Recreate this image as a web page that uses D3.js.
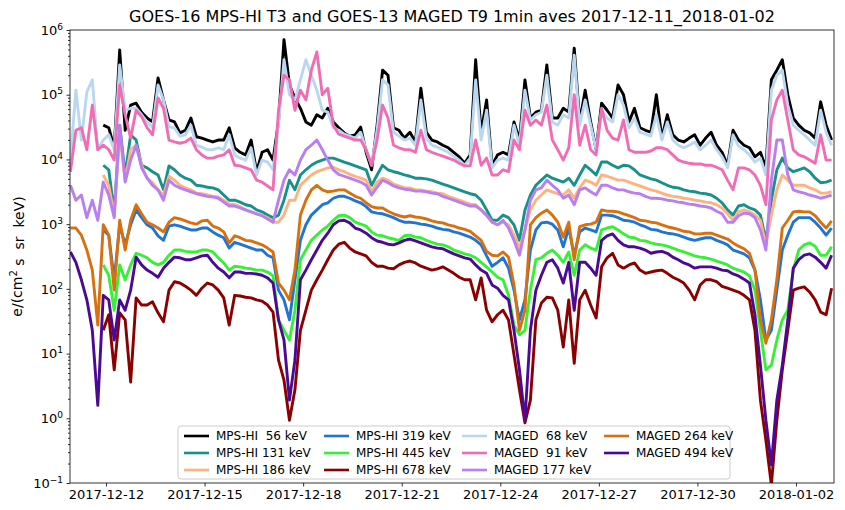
<!DOCTYPE html>
<html>
<head>
<meta charset="utf-8">
<script src="https://cdn.jsdelivr.net/npm/d3@7"></script>
<style>
  body { margin: 0; background: #fff; }
  text { font-family: "DejaVu Sans", sans-serif; fill: #000; }
</style>
</head>
<body>
<svg id="chart" width="845" height="510"></svg>
<script>
// one sample every 4 hours from 2017-12-10 22:00 UT
const sampleStart = '2017-12-10T22:00:00Z';
const sampleStepHours = 4;

// log10 of the flux, e/(cm2 s sr keV); null = no MPS-HI data yet
const mpsHi56 = [
  null,null,null,null,null,null,4.53,4.49,4.18,5.69,
  4.45,4.84,4.87,4.73,4.64,4.58,5.26,4.92,4.61,4.58,
  4.41,4.45,4.64,4.35,4.33,4.30,4.27,4.30,4.30,4.49,
  4.18,4.11,4.07,4.30,3.81,4.11,4.15,3.99,4.58,5.85,
  5.15,4.95,4.79,4.58,4.53,4.69,4.64,4.79,4.58,4.49,
  4.41,4.36,4.38,4.50,4.11,3.84,4.53,5.38,5.30,4.49,
  4.45,4.33,4.42,4.27,5.10,4.42,4.30,4.27,4.22,4.18,
  4.11,4.04,3.94,4.07,5.54,4.42,4.92,3.91,4.07,4.11,
  4.07,4.58,4.30,5.23,4.64,4.73,4.76,5.46,4.64,4.64,
  4.79,4.73,5.72,4.58,5.07,4.58,4.15,4.87,4.76,4.64,
  5.15,5.00,4.58,4.79,4.49,4.45,4.42,5.00,4.33,4.69,
  4.38,4.30,4.27,4.33,4.38,4.22,4.33,4.42,4.22,4.11,
  3.91,4.45,4.30,4.22,4.18,4.04,4.11,3.87,5.23,5.38,
  5.54,5.00,4.64,4.53,4.45,4.41,4.33,4.89,4.53,4.30
];
const mpsHi131 = [
  null,null,null,null,null,null,3.91,3.84,3.19,4.53,
  3.76,4.38,4.30,3.91,3.87,3.81,3.76,3.53,3.90,3.84,
  3.76,3.71,3.68,3.60,3.59,3.57,3.56,3.53,3.45,3.37,
  3.37,3.34,3.30,3.28,3.22,3.19,3.14,3.10,3.14,3.37,
  3.68,3.53,3.76,3.84,3.91,3.96,3.99,4.02,4.02,3.99,
  3.96,3.93,3.90,3.87,3.84,3.60,3.76,3.91,3.84,3.81,
  3.79,3.76,3.74,3.71,3.71,3.70,3.68,3.65,3.62,3.59,
  3.56,3.53,3.50,3.47,3.45,3.37,3.22,3.06,3.06,3.14,
  3.10,2.99,2.75,3.22,3.45,3.60,3.68,3.76,3.71,3.68,
  3.65,3.71,3.60,3.76,3.91,3.84,3.76,3.96,3.96,3.91,
  3.87,3.91,3.90,3.84,3.76,3.73,3.70,3.68,3.64,3.60,
  3.57,3.56,3.53,3.51,3.50,3.48,3.47,3.45,3.40,3.33,
  3.22,3.14,3.28,3.30,3.25,3.22,3.14,2.75,3.37,3.84,
  4.02,3.87,3.81,3.84,3.87,3.81,3.71,3.64,3.65,3.68
];
const mpsHi186 = [
  null,null,null,null,null,null,3.76,3.60,3.14,4.38,
  3.68,4.15,4.22,3.91,3.71,3.64,3.53,3.45,3.74,3.68,
  3.60,3.56,3.53,3.48,3.47,3.45,3.43,3.42,3.37,3.31,
  3.30,3.27,3.22,3.19,3.16,3.13,3.10,3.03,3.03,3.14,
  3.37,3.37,3.60,3.68,3.76,3.81,3.84,3.87,3.88,3.84,
  3.81,3.77,3.74,3.71,3.68,3.50,3.65,3.71,3.68,3.62,
  3.59,3.56,3.56,3.53,3.53,3.51,3.50,3.48,3.47,3.43,
  3.40,3.37,3.34,3.31,3.30,3.22,3.13,3.03,2.99,3.03,
  2.99,2.83,2.63,2.91,3.22,3.37,3.45,3.53,3.50,3.47,
  3.45,3.53,3.40,3.56,3.68,3.65,3.60,3.76,3.74,3.71,
  3.68,3.68,3.65,3.62,3.59,3.56,3.53,3.51,3.48,3.45,
  3.43,3.42,3.40,3.39,3.37,3.36,3.34,3.33,3.30,3.25,
  3.16,3.06,3.19,3.22,3.19,3.14,3.06,2.68,3.14,3.53,
  3.76,3.68,3.60,3.60,3.60,3.56,3.53,3.48,3.48,3.50
];
const mpsHi319 = [
  null,null,null,null,null,null,2.91,2.83,2.14,2.99,
  2.68,2.99,3.22,3.10,2.99,2.94,2.82,2.75,2.97,2.99,
  2.97,2.94,2.91,2.91,2.94,2.94,2.88,2.83,2.79,2.63,
  2.72,2.69,2.66,2.63,2.60,2.60,2.52,2.48,1.98,1.83,
  1.52,2.14,2.75,2.99,3.14,3.22,3.30,3.33,3.40,3.43,
  3.43,3.40,3.36,3.33,3.27,3.19,3.17,3.16,3.13,3.10,
  3.06,3.03,3.03,3.02,3.00,2.99,2.97,2.94,2.92,2.91,
  2.88,2.86,2.83,2.80,2.75,2.68,2.51,2.35,2.41,2.48,
  2.32,1.98,1.52,1.83,2.60,2.91,3.02,3.03,3.00,2.91,
  2.65,2.94,2.52,2.88,2.94,2.91,2.88,3.14,3.14,3.13,
  3.10,3.06,3.05,3.03,2.99,2.96,2.92,2.91,2.88,2.86,
  2.85,2.83,2.80,2.77,2.75,2.77,2.79,2.79,2.75,2.72,
  2.68,2.60,2.57,2.54,2.48,2.29,1.83,1.21,1.36,1.98,
  2.60,2.83,3.03,3.10,3.10,3.10,3.03,2.94,2.83,2.94
];
const mpsHi445 = [
  null,null,null,null,null,null,2.37,2.21,1.67,2.37,
  2.14,2.37,2.55,2.52,2.48,2.41,2.37,2.41,2.52,2.60,
  2.60,2.58,2.57,2.57,2.60,2.60,2.57,2.48,2.40,2.29,
  2.35,2.34,2.32,2.31,2.29,2.29,2.26,2.20,1.52,1.36,
  1.21,1.67,2.45,2.60,2.75,2.83,2.91,2.97,3.06,3.13,
  3.14,3.10,3.03,3.00,2.97,2.88,2.83,2.82,2.79,2.77,
  2.75,2.82,2.83,2.80,2.79,2.75,2.72,2.69,2.68,2.65,
  2.60,2.57,2.54,2.52,2.48,2.41,2.34,2.26,2.18,2.14,
  1.90,1.44,1.29,1.36,1.98,2.45,2.48,2.55,2.60,2.52,
  2.41,2.57,2.21,2.60,2.68,2.63,2.60,2.91,2.94,2.96,
  2.91,2.85,2.80,2.79,2.75,2.74,2.71,2.69,2.68,2.66,
  2.63,2.60,2.57,2.54,2.51,2.49,2.48,2.46,2.43,2.40,
  2.37,2.32,2.29,2.26,2.20,1.98,1.36,0.75,0.82,1.21,
  1.52,1.67,2.29,2.60,2.68,2.71,2.66,2.52,2.52,2.65
];
const mpsHi678 = [
  null,null,null,null,null,null,1.36,1.60,0.75,1.63,
  1.52,0.56,1.86,1.75,1.75,1.80,1.63,1.49,1.98,2.11,
  2.09,2.04,1.98,1.90,2.01,2.09,2.06,1.98,1.86,1.44,
  1.90,1.89,1.87,1.86,1.83,1.81,1.75,1.64,0.90,0.59,
  -0.03,0.44,1.36,1.67,1.98,2.14,2.29,2.45,2.60,2.69,
  2.72,2.63,2.57,2.54,2.51,2.41,2.35,2.35,2.32,2.31,
  2.37,2.41,2.43,2.40,2.35,2.32,2.29,2.31,2.34,2.29,
  2.24,2.18,2.14,2.14,1.83,2.17,1.67,1.49,1.60,1.67,
  1.52,0.98,0.44,-0.07,0.28,1.52,1.78,1.87,1.86,1.67,
  1.10,1.83,0.85,1.83,1.98,1.75,1.55,2.34,2.48,2.55,
  2.37,2.32,2.37,2.40,2.29,2.24,2.26,2.28,2.29,2.24,
  2.18,2.14,2.09,1.98,1.83,2.06,2.14,2.14,2.11,2.04,
  2.01,1.98,1.95,1.90,1.83,1.36,0.28,-0.34,-1.03,-0.03,
  0.75,1.36,1.98,2.01,2.03,1.95,1.83,1.64,1.60,2.01
];
const maged68 = [
  3.99,5.07,4.30,5.04,5.23,4.15,4.30,4.38,4.15,5.46,
  4.76,4.79,4.79,4.69,4.58,4.49,5.15,4.92,4.50,4.49,
  4.36,4.38,4.53,4.22,4.19,4.15,4.15,4.18,4.15,4.38,
  4.07,4.02,3.99,4.18,3.76,3.99,3.96,3.84,4.53,5.54,
  5.00,4.92,5.23,5.54,5.30,5.07,4.76,4.73,4.49,4.45,
  4.39,4.36,4.33,4.42,4.15,3.91,4.45,5.23,5.15,4.42,
  4.36,4.30,4.33,4.22,4.92,4.33,4.22,4.19,4.15,4.11,
  4.05,3.99,3.91,4.02,5.23,4.30,4.76,3.87,3.99,4.02,
  3.99,4.53,4.22,5.07,4.61,4.69,4.73,5.30,4.58,4.53,
  4.69,4.64,5.61,4.53,4.92,4.53,4.15,4.76,4.64,4.58,
  5.00,4.84,4.49,4.64,4.42,4.39,4.36,4.69,4.30,4.58,
  4.30,4.22,4.18,4.22,4.27,4.15,4.22,4.30,4.15,4.04,
  3.87,4.38,4.21,4.15,4.07,3.96,4.02,3.76,5.07,5.30,
  5.38,4.84,4.53,4.45,4.38,4.30,4.22,4.76,4.42,4.22
];
const maged91 = [
  3.81,4.45,4.49,4.15,4.84,4.15,4.22,4.15,3.99,5.15,
  4.69,4.33,4.76,4.66,4.49,4.38,4.95,4.79,4.30,4.27,
  4.25,4.27,4.33,4.15,4.07,4.02,4.02,4.05,4.07,4.15,
  3.91,3.90,3.87,3.84,3.68,3.65,3.59,3.53,4.76,5.30,
  5.23,4.76,5.07,4.92,5.38,5.66,5.00,5.10,4.53,4.39,
  4.36,4.33,4.30,4.30,4.15,3.91,4.30,4.84,4.64,4.22,
  4.18,4.15,4.15,4.11,4.45,4.15,4.11,4.08,4.05,4.02,
  3.99,3.94,3.90,3.90,4.30,3.91,4.02,3.76,3.76,3.84,
  3.81,4.30,4.15,4.76,4.53,4.61,4.53,4.84,4.30,4.15,
  3.99,4.18,5.00,4.22,4.53,4.15,4.07,4.79,4.45,4.33,
  4.30,4.61,4.15,4.11,4.11,4.11,4.13,4.18,4.18,4.15,
  4.07,3.99,3.96,3.94,3.93,3.93,3.91,3.91,3.88,3.84,
  3.68,3.53,3.87,3.87,3.84,3.76,3.60,3.30,4.61,4.92,
  5.07,4.61,4.15,4.07,4.04,3.99,3.94,4.38,3.99,3.99
];
const maged177 = [
  3.60,3.37,3.45,3.10,3.37,3.06,3.65,3.45,3.10,4.53,
  3.65,3.99,4.22,3.87,3.71,3.60,3.53,3.37,3.68,3.60,
  3.56,3.53,3.50,3.47,3.45,3.43,3.42,3.40,3.34,3.28,
  3.28,3.25,3.22,3.19,3.16,3.13,3.08,3.03,3.37,3.68,
  3.84,3.76,3.99,4.15,4.22,4.30,4.15,3.99,3.84,3.77,
  3.74,3.71,3.68,3.65,3.60,3.45,3.57,3.68,3.64,3.59,
  3.56,3.54,3.53,3.51,3.51,3.50,3.48,3.47,3.43,3.40,
  3.37,3.34,3.31,3.28,3.28,3.22,3.14,3.03,2.99,3.06,
  2.94,2.75,2.52,2.91,3.37,3.53,3.56,3.68,3.60,3.53,
  3.40,3.45,3.30,3.53,3.56,3.50,3.45,3.60,3.60,3.56,
  3.53,3.53,3.50,3.48,3.47,3.43,3.40,3.40,3.39,3.37,
  3.36,3.34,3.33,3.31,3.30,3.28,3.27,3.25,3.20,3.16,
  3.03,3.03,3.13,3.17,3.16,3.10,2.91,2.60,3.68,4.30,
  4.30,3.76,3.53,3.50,3.48,3.45,3.43,3.40,3.42,3.45
];
const maged264 = [
  2.94,2.94,2.83,2.60,2.29,1.44,2.99,2.83,1.98,3.06,
  2.60,3.06,3.30,3.16,3.03,2.99,2.94,2.88,3.03,3.10,
  3.08,3.05,3.02,3.00,3.05,3.06,2.97,2.94,2.88,2.71,
  2.82,2.79,2.75,2.74,2.71,2.68,2.63,2.57,2.09,1.98,
  1.83,2.29,3.14,3.37,3.53,3.60,3.53,3.50,3.51,3.53,
  3.53,3.48,3.43,3.40,3.33,3.27,3.25,3.25,3.20,3.16,
  3.13,3.11,3.13,3.11,3.10,3.08,3.05,3.03,3.02,2.99,
  2.97,2.94,2.92,2.89,2.82,2.75,2.58,2.52,2.51,2.57,
  2.49,2.06,1.36,1.67,2.99,3.10,3.17,3.22,3.14,3.03,
  2.80,3.03,2.45,2.96,2.99,3.00,3.03,3.22,3.20,3.20,
  3.19,3.16,3.13,3.10,3.06,3.05,3.03,3.02,2.99,2.96,
  2.94,2.92,2.89,2.88,2.85,2.85,2.86,2.86,2.83,2.80,
  2.77,2.71,2.66,2.62,2.55,2.29,1.52,1.16,1.52,2.14,
  2.94,3.06,3.19,3.20,3.19,3.19,3.13,3.03,2.94,3.05
];
const maged494 = [
  2.57,2.41,2.14,1.83,1.36,0.20,1.90,1.83,1.21,1.83,
  1.67,1.98,2.49,2.37,2.29,2.24,2.18,2.32,2.41,2.49,
  2.48,2.45,2.45,2.48,2.51,2.52,2.41,2.32,2.26,2.17,
  2.26,2.26,2.24,2.24,2.23,2.21,2.17,2.09,1.52,1.21,
  0.28,0.90,2.14,2.29,2.45,2.60,2.75,2.86,2.99,3.05,
  3.06,3.02,2.94,2.91,2.86,2.79,2.74,2.72,2.69,2.68,
  2.71,2.75,2.77,2.74,2.71,2.68,2.65,2.63,2.62,2.58,
  2.54,2.51,2.48,2.46,2.37,2.29,2.24,2.06,2.01,1.90,
  1.83,1.36,0.75,-0.03,1.36,1.98,2.21,2.41,2.45,2.32,
  2.09,2.41,1.67,2.41,2.41,2.32,2.21,2.75,2.82,2.85,
  2.75,2.68,2.65,2.65,2.63,2.60,2.55,2.57,2.58,2.55,
  2.49,2.45,2.40,2.37,2.32,2.34,2.34,2.34,2.32,2.29,
  2.28,2.23,2.20,2.15,2.09,1.60,0.82,-0.03,-0.72,0.28,
  0.82,1.52,2.32,2.45,2.52,2.54,2.49,2.41,2.32,2.52
];

const seriesLabels = [
  'MPS-HI  56 keV', 'MPS-HI 131 keV', 'MPS-HI 186 keV',
  'MPS-HI 319 keV', 'MPS-HI 445 keV', 'MPS-HI 678 keV',
  'MAGED  68 keV', 'MAGED  91 keV', 'MAGED 177 keV',
  'MAGED 264 keV', 'MAGED 494 keV'
];
const seriesColors = [
  '#000000', '#17918a', '#ffb27e',
  '#1f74d6', '#35f035', '#8b0000',
  '#bad7f2', '#f06db5', '#b97ef0',
  '#d9700f', '#4b0a94'
];
const seriesValues = [
  mpsHi56, mpsHi131, mpsHi186, mpsHi319, mpsHi445, mpsHi678,
  maged68, maged91, maged177, maged264, maged494
];

const xTickDates = ['2017-12-12', '2017-12-15', '2017-12-18', '2017-12-21',
  '2017-12-24', '2017-12-27', '2017-12-30', '2018-01-02'];
const yTickExponents = [-1, 0, 1, 2, 3, 4, 5, 6];

const chartTitle = 'GOES-16 MPS-HI T3 and GOES-13 MAGED T9 1min aves 2017-12-11_2018-01-02';

// layout
const plot = {left: 70, right: 834, top: 30, bottom: 483};
const svg = d3.select('#chart');

const x = d3.scaleUtc()
  .domain([new Date('2017-12-10T21:42:00Z'), new Date('2018-01-03T03:45:00Z')])
  .range([plot.left, plot.right]);
const y = d3.scaleLog()
  .domain([1e-1, 1e6])
  .range([plot.bottom, plot.top]);

const t0 = new Date(sampleStart).getTime();
const timeAt = i => new Date(t0 + i * sampleStepHours * 3600e3);

svg.append('clipPath').attr('id', 'plot-clip')
  .append('rect')
  .attr('x', plot.left).attr('y', plot.top)
  .attr('width', plot.right - plot.left)
  .attr('height', plot.bottom - plot.top);

const line = d3.line()
  .defined(d => d.v !== null)
  .x(d => x(d.t))
  .y(d => y(Math.pow(10, d.v)));

const lines = svg.append('g').attr('clip-path', 'url(#plot-clip)');
seriesValues.forEach((vals, k) => {
  lines.append('path')
    .datum(vals.map((v, i) => ({t: timeAt(i), v: v})))
    .attr('fill', 'none')
    .attr('stroke', seriesColors[k])
    .attr('stroke-width', 2.9)
    .attr('stroke-linejoin', 'round')
    .attr('d', line);
});

// x axis
const xAxis = svg.append('g')
  .attr('transform', 'translate(0,' + plot.bottom + ')')
  .call(d3.axisBottom(x)
    .tickValues(xTickDates.map(s => new Date(s + 'T00:00:00Z')))
    .tickFormat(d3.utcFormat('%Y-%m-%d'))
    .tickSize(3.5)
    .tickPadding(3.5));
xAxis.select('.domain').remove();
xAxis.selectAll('text').attr('font-size', 13).attr('font-family', 'DejaVu Sans');

// y axis, major ticks at the decades
const yAxis = svg.append('g')
  .attr('transform', 'translate(' + plot.left + ',0)')
  .call(d3.axisLeft(y)
    .tickValues(yTickExponents.map(e => Math.pow(10, e)))
    .tickFormat('')
    .tickSize(3.5)
    .tickPadding(3.5));
yAxis.select('.domain').remove();
yAxis.selectAll('.tick').each(function(d, i) {
  const t = d3.select(this).append('text')
    .attr('x', -7).attr('dy', '0.32em')
    .attr('text-anchor', 'end')
    .attr('font-size', 13);
  t.append('tspan').text('10');
  const e = yTickExponents[i];
  t.append('tspan')
    .attr('dy', '-0.55em')
    .attr('font-size', 9)
    .text(e < 0 ? '\u2212' + (-e) : String(e));
});

// minor ticks
const minorTicks = [];
yTickExponents.slice(0, -1).forEach(e => {
  for (let m = 2; m <= 9; m++) minorTicks.push(m * Math.pow(10, e));
});
const yMinor = svg.append('g')
  .attr('transform', 'translate(' + plot.left + ',0)')
  .call(d3.axisLeft(y).tickValues(minorTicks).tickFormat('').tickSize(2));
yMinor.select('.domain').remove();
svg.selectAll('.tick line').attr('stroke', '#000').attr('stroke-width', 0.8);

// frame
svg.append('rect')
  .attr('x', plot.left).attr('y', plot.top)
  .attr('width', plot.right - plot.left)
  .attr('height', plot.bottom - plot.top)
  .attr('fill', 'none')
  .attr('stroke', '#000')
  .attr('stroke-width', 0.8);

// title
svg.append('text')
  .attr('x', (plot.left + plot.right) / 2)
  .attr('y', 22)
  .attr('text-anchor', 'middle')
  .attr('font-size', 16)
  .text(chartTitle);

// y label
const yLabel = svg.append('text')
  .attr('transform', 'translate(22,' + (plot.top + plot.bottom) / 2 + ') rotate(-90)')
  .attr('text-anchor', 'middle')
  .attr('font-size', 14)
  .attr('xml:space', 'preserve');
yLabel.append('tspan').text('e/(cm');
yLabel.append('tspan').attr('dy', '-0.5em').attr('font-size', 10).text('2');
yLabel.append('tspan').attr('dy', '0.5em').text(' s  sr  keV)');

// legend, filled column by column
const legend = svg.append('g');
legend.append('rect')
  .attr('x', 178).attr('y', 426)
  .attr('width', 552).attr('height', 53)
  .attr('rx', 3)
  .attr('fill', '#fff').attr('fill-opacity', 0.8)
  .attr('stroke', '#ccc');
const legendCols = [184, 324, 462, 604];
const legendRows = [436, 453, 470];
seriesLabels.forEach((label, k) => {
  const cx = legendCols[Math.floor(k / 3)];
  const cy = legendRows[k % 3];
  legend.append('line')
    .attr('x1', cx).attr('x2', cx + 25)
    .attr('y1', cy).attr('y2', cy)
    .attr('stroke', seriesColors[k])
    .attr('stroke-width', 2.6);
  legend.append('text')
    .attr('x', cx + 32).attr('y', cy)
    .attr('dy', '0.35em')
    .attr('font-size', 12)
    .attr('xml:space', 'preserve')
    .text(label);
});
</script>
</body>
</html>
